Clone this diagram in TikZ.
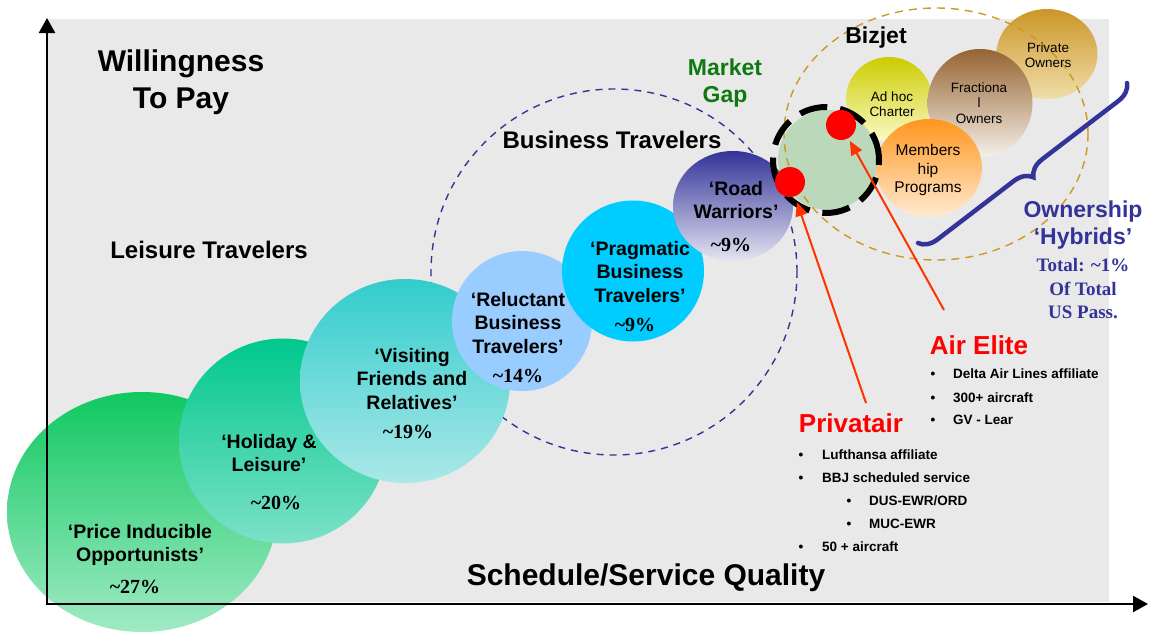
\documentclass[tikz,border=0pt]{standalone}
\usepackage{fontspec}
\setmainfont{Liberation Serif}
\setsansfont{Liberation Sans}
\usetikzlibrary{shapes.geometric,arrows.meta,decorations.pathreplacing}

\definecolor{bg}{RGB}{233,233,233}
\definecolor{navy}{RGB}{51,51,153}
\definecolor{gold}{RGB}{204,153,34}
\definecolor{mgreen}{RGB}{16,120,16}
\definecolor{arr}{RGB}{255,51,0}
\definecolor{gapfill}{RGB}{187,216,187}

\begin{document}
\begin{tikzpicture}[x=1pt,y=1pt,
  bubble/.style={ellipse, inner sep=0pt, draw=none},
  lbl/.style={font=\fontsize{19.5}{23.5}\selectfont\sffamily\bfseries, align=center, inner sep=0pt},
  pct/.style={font=\fontsize{20}{24}\selectfont\rmfamily\bfseries, inner sep=0pt},
  smalllbl/.style={font=\fontsize{13.5}{15.5}\selectfont\sffamily, align=center, inner sep=0pt},
  title/.style={font=\fontsize{24}{28}\selectfont\sffamily\bfseries, align=center, inner sep=0pt},
  bigtitle/.style={font=\fontsize{30}{37}\selectfont\sffamily\bfseries, align=center, inner sep=0pt},
  redtitle/.style={font=\fontsize{26}{30}\selectfont\sffamily\bfseries, text=red, inner sep=0pt},
  item/.style={font=\fontsize{13.5}{16}\selectfont\sffamily\bfseries, anchor=base west, inner sep=0pt},
  bul/.style={font=\fontsize{13.5}{16}\selectfont\sffamily\bfseries, anchor=base, inner sep=0pt},
  axisline/.style={line width=2.4pt, -{Triangle[length=15pt,width=16pt]}},
  pointer/.style={arr, line width=2pt, -{Triangle[length=14pt,width=12pt]}},
  reddot/.style={circle, fill=red, inner sep=0pt, minimum size=30pt},
]
\useasboundingbox (0,0) rectangle (1149,-632);
\fill[bg] (48,-19) rectangle (1109,-602);

% Business travelers dashed circle (beneath the bubbles)
\node[circle, draw=navy, line width=1.4pt, dash pattern=on 7pt off 6pt, minimum size=366pt, inner sep=0pt] (bizcircle) at (614,-272) {};

% segment bubbles
\node[bubble, minimum width=270pt, minimum height=240pt, top color={rgb,255:red,16;green,200;blue,96}, bottom color={rgb,255:red,160;green,234;blue,196}] (price) at (142,-512) {};
\node[bubble, minimum width=208pt, minimum height=205pt, top color={rgb,255:red,0;green,200;blue,140}, bottom color={rgb,255:red,125;green,225;blue,200}] (holiday) at (283,-441) {};
\node[bubble, minimum width=210pt, minimum height=204pt, top color={rgb,255:red,51;green,204;blue,204}, bottom color={rgb,255:red,170;green,232;blue,232}] (visiting) at (405,-381) {};
\node[bubble, minimum width=140pt, minimum height=140pt, fill={rgb,255:red,153;green,204;blue,255}] (reluctant) at (522,-321) {};
\node[bubble, minimum width=142pt, minimum height=141pt, fill={rgb,255:red,0;green,204;blue,255}] (pragmatic) at (633,-271) {};
\node[bubble, minimum width=120pt, minimum height=110pt, top color={rgb,255:red,51;green,51;blue,153}, bottom color={rgb,255:red,228;green,228;blue,242}] (road) at (733,-206) {};

% bizjet bubbles
\node[bubble, minimum width=101pt, minimum height=90pt, top color={rgb,255:red,204;green,150;blue,40}, bottom color={rgb,255:red,240;green,222;blue,170}] (private) at (1047,-54) {};
\node[bubble, minimum width=86pt, minimum height=84pt, top color={rgb,255:red,204;green,204;blue,0}, bottom color={rgb,255:red,250;green,250;blue,200}] (adhoc) at (889,-99) {};
\node[bubble, minimum width=105pt, minimum height=108pt, top color={rgb,255:red,150;green,100;blue,50}, bottom color={rgb,255:red,245;green,240;blue,232}] (fractional) at (980,-103) {};
\node[bubble, minimum width=100pt, minimum height=100pt, fill=gapfill] (gap) at (828,-160) {};
\node[bubble, minimum width=106pt, minimum height=98pt, top color={rgb,255:red,255;green,150;blue,30}, bottom color={rgb,255:red,255;green,235;blue,210}] (membership) at (929,-168) {};

% bizjet dashed circle
\node[ellipse, draw=gold, line width=1.4pt, dash pattern=on 8pt off 6pt, minimum width=304pt, minimum height=252pt, inner sep=0pt] (bizjetcircle) at (936,-134) {};

% market gap ring
\node[circle, draw=black, line width=6pt, dash pattern=on 28pt off 13pt, minimum size=106pt, inner sep=0pt] (ring) at (826,-160) {};

% bubble labels
\node[lbl] (priceT) at (140,-545) {‘Price Inducible\\Opportunists’};
\node[pct] (priceP) at (135,-587) {\textasciitilde27\%};
\node[lbl] (holidayT) at (269,-453) {‘Holiday \&\\Leisure’};
\node[pct] (holidayP) at (276,-503) {\textasciitilde20\%};
\node[lbl] (visitingT) at (412,-379) {‘Visiting\\Friends and\\Relatives’};
\node[pct] (visitingP) at (408,-432) {\textasciitilde19\%};
\node[lbl] (reluctantT) at (518,-323) {‘Reluctant\\Business\\Travelers’};
\node[pct] (reluctantP) at (518,-376) {\textasciitilde14\%};
\node[lbl] (pragmaticT) at (640,-272) {‘Pragmatic\\Business\\Travelers’};
\node[pct] (pragmaticP) at (635,-325) {\textasciitilde9\%};
\node[lbl] (roadT) at (736,-200) {‘Road\\Warriors’};
\node[pct] (roadP) at (731,-245) {\textasciitilde9\%};

\node[smalllbl] (privateT) at (1048,-55) {Private\\Owners};
\node[smalllbl] (adhocT) at (892,-104) {Ad hoc\\Charter};
\node[smalllbl] (fractionalT) at (979,-103) {Fractiona\\l\\Owners};
\node[smalllbl, font=\fontsize{15.5}{18.5}\selectfont\sffamily] (membershipT) at (928,-170) {Members\\hip\\Programs};

% titles
\node[bigtitle] (wtp) at (181,-82) {Willingness\\To Pay};
\node[title] (leisure) at (209,-250) {Leisure Travelers};
\node[title] (business) at (612,-140) {Business Travelers};
\node[title, text=mgreen, font=\fontsize{23}{27}\selectfont\sffamily\bfseries] (market) at (725,-83) {Market\\Gap};
\node[title, font=\fontsize{23}{27}\selectfont\sffamily\bfseries] (bizjet) at (876,-38) {Bizjet};
\node[bigtitle] (ssq) at (646,-578) {Schedule/Service Quality};

% ownership hybrids
\coordinate (brTop) at (1127,-83);
\coordinate (brBot) at (918,-243);
\draw[navy, line width=4.5pt, line cap=round, decorate, decoration={brace, amplitude=18pt}] (brTop) -- (brBot);
\node[font=\fontsize{23}{27}\selectfont\sffamily\bfseries, text=navy, align=center, inner sep=0pt] (hybrids) at (1083,-225) {Ownership\\‘Hybrids’};
\node[font=\fontsize{19}{23.5}\selectfont\rmfamily\bfseries, text=navy, align=center, inner sep=0pt] (hybridsT) at (1083,-289) {Total: \textasciitilde1\%\\Of Total\\US Pass.};

% Air Elite
\node[redtitle] (airelite) at (979,-345) {Air Elite};
\node[bul] (ae1b) at (933,-378) {•};
\node[item] (ae1) at (953,-378) {Delta Air Lines affiliate};
\node[bul] (ae2b) at (933,-402) {•};
\node[item] (ae2) at (953,-402) {300+ aircraft};
\node[bul] (ae3b) at (933,-424) {•};
\node[item] (ae3) at (953,-424) {GV - Lear};

% Privatair
\node[redtitle] (privatair) at (851,-423) {Privatair};
\node[bul] (pa1b) at (801,-459) {•};
\node[item] (pa1) at (822,-459) {Lufthansa affiliate};
\node[bul] (pa2b) at (801,-482) {•};
\node[item] (pa2) at (822,-482) {BBJ scheduled service};
\node[bul] (pa3b) at (849,-505) {•};
\node[item] (pa3) at (869,-505) {DUS-EWR/ORD};
\node[bul] (pa4b) at (849,-528) {•};
\node[item] (pa4) at (869,-528) {MUC-EWR};
\node[bul] (pa5b) at (801,-551) {•};
\node[item] (pa5) at (822,-551) {50 + aircraft};

% red dots and pointers
\node[reddot] (dotA) at (841,-125) {};
\node[reddot] (dotB) at (790,-182) {};
\coordinate (paStart) at (866,-403);
\coordinate (aeStart) at (944,-310);
\draw[pointer, shorten >=6pt] (paStart) -- (dotB);
\draw[pointer, shorten >=3pt] (aeStart) -- (dotA);

% axes
\coordinate (origin) at (47,-604);
\coordinate (ytip) at (47,-18);
\coordinate (xtip) at (1148,-604);
\draw[axisline] (47,-605.2) -- (ytip);
\draw[axisline] (45.8,-604) -- (xtip);
\end{tikzpicture}
\end{document}
